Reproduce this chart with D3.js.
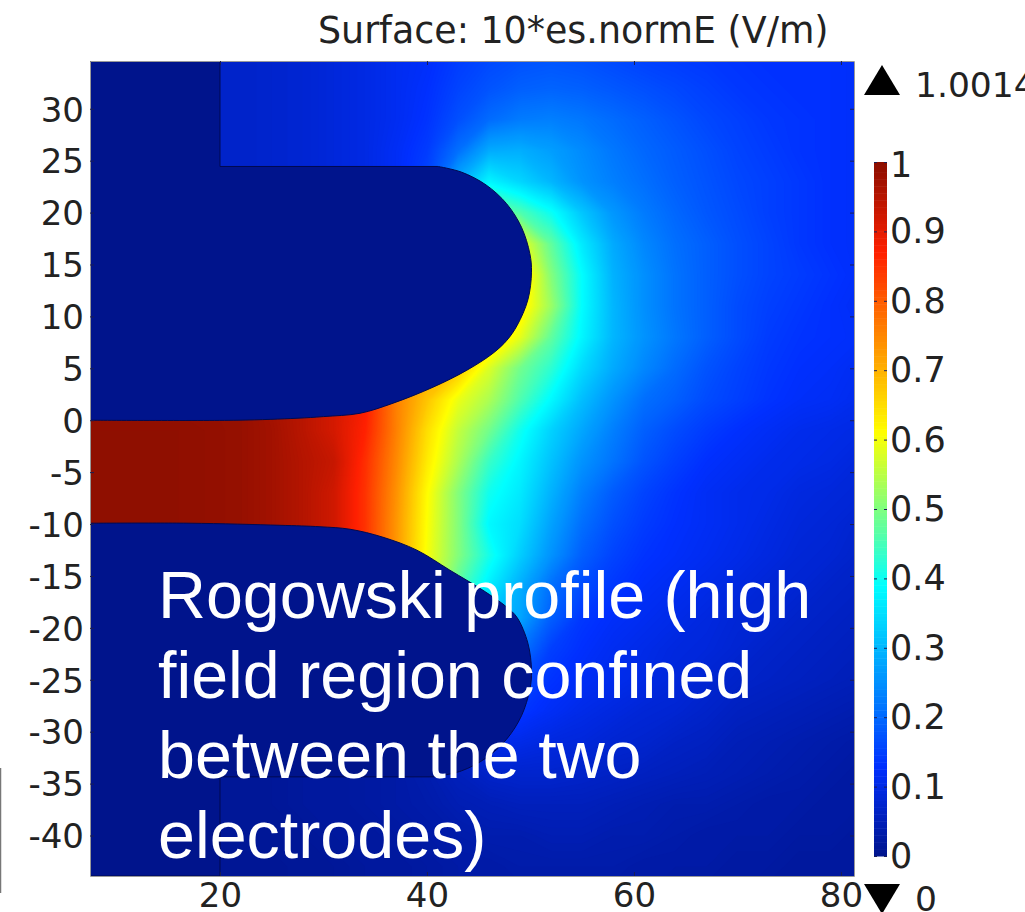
<!DOCTYPE html>
<html>
<head>
<meta charset="utf-8">
<script src="https://cdn.jsdelivr.net/npm/d3@7"></script>
<style>
  html, body { margin: 0; padding: 0; background: #fff; overflow: hidden; }
  text { font-family: "DejaVu Sans", sans-serif; fill: #222; }
  .axis path { stroke: #999; }
  .axis line { stroke: #1a1f55; }
  .note { font-family: "Liberation Sans", Arial, sans-serif; fill: #fff; }
</style>
</head>
<body>
<div id="chart"></div>
<script>
// field values, one row per y, columns follow gridX
var gridX = [7,10,13,16,19,22,25,28,31,34,37,40,43,46,49,52,55,58,61,64,67,70,73,76,79,82];
var gridY = [35,32,29,26,23,20,17,14,11,8,5,2,-1,-4,-7,-10,-13,-16,-19,-22,-25,-28,-31,-34,-37,-40,-43,-46];
var gridRows = [
  [.07,.07,.07,.07,.07,.07,.075,.08,.09,.10,.115,.125,.145,.16,.17,.175,.17,.16,.15,.145,.14,.135,.13,.13,.13,.125],
  [.07,.07,.07,.07,.07,.07,.075,.08,.09,.10,.115,.13,.155,.175,.19,.195,.19,.18,.17,.16,.15,.14,.135,.13,.13,.125],
  [.07,.07,.07,.07,.07,.07,.075,.08,.09,.10,.115,.135,.17,.205,.225,.23,.22,.205,.19,.175,.16,.15,.14,.135,.13,.125],
  [.07,.07,.07,.07,.07,.07,.075,.08,.09,.10,.12,.145,.21,.285,.29,.27,.245,.22,.20,.185,.17,.155,.145,.135,.13,.125],
  [.07,.07,.07,.07,.07,.07,.075,.08,.09,.10,.12,.16,.29,.38,.34,.30,.255,.23,.21,.19,.175,.16,.15,.14,.13,.125],
  [.30,.30,.30,.30,.30,.30,.30,.30,.30,.30,.30,.30,.40,.50,.46,.40,.32,.26,.225,.20,.18,.165,.15,.14,.13,.125],
  [.50,.50,.50,.50,.50,.50,.50,.50,.50,.50,.50,.50,.50,.60,.60,.475,.365,.285,.24,.21,.19,.17,.155,.14,.13,.125],
  [.75,.75,.75,.75,.75,.75,.75,.75,.75,.75,.75,.75,.75,.75,.66,.505,.39,.295,.25,.215,.19,.17,.155,.145,.135,.125],
  [.80,.80,.80,.80,.80,.80,.80,.80,.80,.80,.80,.80,.80,.75,.64,.525,.39,.30,.25,.215,.19,.165,.15,.14,.13,.12],
  [.80,.80,.80,.80,.80,.80,.80,.80,.80,.80,.80,.80,.72,.67,.59,.475,.38,.30,.255,.22,.19,.165,.145,.135,.13,.125],
  [.90,.90,.90,.90,.90,.90,.90,.90,.90,.90,.80,.72,.68,.58,.49,.43,.345,.285,.24,.205,.175,.155,.14,.13,.125,.115],
  [.99,.99,.99,.99,.99,.988,.97,.95,.92,.88,.76,.68,.595,.54,.46,.385,.31,.255,.21,.19,.165,.15,.135,.125,.12,.11],
  [.995,.995,.995,.995,.992,.988,.975,.95,.92,.87,.76,.65,.56,.49,.405,.335,.28,.23,.19,.165,.145,.13,.12,.11,.105,.10],
  [.995,.995,.995,.995,.992,.988,.975,.955,.935,.855,.75,.635,.54,.44,.38,.315,.255,.215,.175,.15,.13,.12,.11,.105,.10,.09],
  [.995,.995,.995,.995,.992,.988,.975,.955,.925,.85,.74,.615,.505,.405,.365,.295,.23,.185,.155,.135,.12,.11,.105,.095,.09,.085],
  [.995,.995,.995,.995,.992,.988,.975,.955,.925,.85,.735,.61,.505,.385,.35,.275,.21,.17,.145,.13,.12,.11,.10,.09,.085,.075],
  [.99,.99,.99,.99,.99,.988,.975,.955,.92,.85,.735,.605,.505,.41,.33,.255,.19,.155,.135,.125,.115,.105,.095,.085,.08,.07],
  [.60,.60,.60,.60,.60,.60,.60,.60,.60,.60,.60,.60,.47,.37,.29,.21,.165,.14,.125,.115,.105,.095,.085,.08,.07,.065],
  [.30,.30,.30,.30,.30,.30,.30,.30,.30,.30,.30,.30,.32,.32,.28,.19,.14,.125,.115,.105,.095,.085,.08,.07,.065,.06],
  [.20,.20,.20,.20,.20,.20,.20,.20,.20,.20,.20,.20,.25,.30,.22,.15,.13,.115,.105,.095,.09,.08,.07,.065,.06,.055],
  [.12,.12,.12,.12,.12,.12,.12,.12,.12,.12,.12,.12,.15,.20,.17,.135,.12,.11,.10,.09,.08,.07,.065,.06,.055,.05],
  [.08,.08,.08,.08,.08,.08,.08,.08,.08,.08,.08,.08,.10,.14,.14,.12,.105,.095,.085,.08,.07,.06,.055,.05,.045,.04],
  [.015,.015,.015,.015,.015,.015,.015,.02,.02,.025,.03,.05,.08,.11,.105,.095,.09,.08,.075,.065,.06,.05,.045,.04,.035,.03],
  [.015,.015,.015,.015,.015,.015,.015,.02,.02,.025,.03,.04,.055,.07,.075,.075,.07,.065,.06,.055,.05,.045,.04,.035,.03,.025],
  [.015,.015,.015,.015,.015,.015,.015,.02,.02,.025,.03,.035,.045,.05,.055,.055,.055,.05,.045,.04,.04,.035,.03,.03,.025,.025],
  [.015,.015,.015,.015,.015,.015,.015,.015,.02,.02,.025,.03,.035,.04,.04,.045,.045,.04,.04,.035,.03,.03,.03,.025,.025,.02],
  [.01,.01,.01,.01,.01,.01,.01,.015,.015,.02,.02,.025,.03,.03,.035,.035,.035,.035,.03,.03,.03,.025,.025,.02,.02,.02],
  [.01,.01,.01,.01,.01,.01,.01,.015,.015,.02,.02,.025,.03,.03,.03,.03,.03,.03,.03,.025,.025,.025,.02,.02,.02,.02]
];

// electrode outlines, in plot units
var upperProfile = [[41.06,24.44],[43.32,23.9],[45.71,22.66],[47.69,20.86],[49.13,18.59],[49.94,16.04],[50.1,14.26],[49.75,11.6],[48.71,9.13],[47.73,7.71],[46.38,6.45],[43.86,4.82],[40.58,3.18],[36.72,1.64],[33.53,.67],[30,.35],[27.44,.19],[21.64,0],[7.44,0]];
var lowerProfile = [[7.44,-9.92],[17.1,-9.92],[25.8,-10.12],[29.66,-10.26],[32.56,-10.5],[35.75,-11.27],[39.03,-12.52],[42.22,-14.45],[45.41,-16.38],[47.73,-18.02],[48.71,-19.01],[49.75,-21.47],[50.1,-24.13],[49.94,-25.92],[49.13,-28.47],[47.69,-30.73],[45.71,-32.53],[43.32,-33.78],[40.68,-34.35]];

var xTicks = [20,40,60,80];
var yTicks = [30,25,20,15,10,5,0,-5,-10,-15,-20,-25,-30,-35,-40];
var barTicks = [0,.1,.2,.3,.4,.5,.6,.7,.8,.9,1];
var colorStops = [0,.13,.39,.61,.87,1];
var colorValues = ["#00148c","#0030ff","#00ffff","#ffff00","#ff2000","#8a0e00"];
var titleText = "Surface: 10*es.normE (V/m)";
var maxText = "1.0014";
var minText = "0";
var noteLines = ["Rogowski profile (high","field region confined","between the two","electrodes)"];

var width = 1025, height = 912;
var plot = { left: 90, right: 854, top: 61, bottom: 876 };

var x = d3.scaleLinear().domain([7.44,81.26]).range([plot.left, plot.right]);
var y = d3.scaleLinear().domain([-43.9,34.6]).range([plot.bottom, plot.top]);
var color = d3.scaleLinear().domain(colorStops).range(colorValues);
var barY = d3.scaleLinear().domain([0,1]).range([856,162]);

var svg = d3.select("#chart").append("svg")
  .attr("width", width)
  .attr("height", height)
  .style("display", "block");

// stray line on the left edge of the picture
svg.append("line")
  .attr("x1", 0.5).attr("x2", 0.5)
  .attr("y1", 768).attr("y2", 893)
  .attr("stroke", "#777").attr("stroke-width", 1.5);

svg.append("clipPath").attr("id", "plotClip")
  .append("rect")
  .attr("x", plot.left).attr("y", plot.top)
  .attr("width", plot.right - plot.left)
  .attr("height", plot.bottom - plot.top);

var plotG = svg.append("g").attr("clip-path", "url(#plotClip)");

plotG.append("rect")
  .attr("x", plot.left).attr("y", plot.top)
  .attr("width", plot.right - plot.left)
  .attr("height", plot.bottom - plot.top)
  .attr("fill", color(0));

// ======== Surface ========
var n = gridX.length, m = gridY.length;
var thresholds = d3.range(.0025, 1, .0025);
var contours = d3.contours().size([n, m]).smooth(true).thresholds(thresholds)(gridRows.flat());

// contour coords sit half a cell off the grid index
var gridX2 = d3.scaleLinear().domain([0.5, n - 0.5]).range([gridX[0], gridX[n - 1]]);
var gridY2 = d3.scaleLinear().domain([0.5, m - 0.5]).range([gridY[0], gridY[m - 1]]);
var path = d3.geoPath(d3.geoTransform({
  point: function (px, py) { this.stream.point(x(gridX2(px)), y(gridY2(py))); }
}));

plotG.selectAll(".band")
  .data(contours)
  .enter().append("path")
  .attr("class", "band")
  .attr("d", path)
  .attr("fill", function (d) { return color(d.value); });

// ======== Electrodes ========
var outline = d3.line()
  .x(function (d) { return x(d[0]); })
  .y(function (d) { return y(d[1]); })
  .curve(d3.curveCatmullRom.alpha(0.5));

function pt(a, b) { return "L" + x(a) + "," + y(b); }

var upperD = outline(upperProfile) + pt(7.44,34.6) + pt(20,34.6) + pt(20,24.44) + "Z";
var lowerD = outline(lowerProfile) + pt(20,-34.35) + pt(20,-43.9) + pt(7.44,-43.9) + "Z";

plotG.selectAll(".electrode")
  .data([upperD, lowerD])
  .enter().append("path")
  .attr("class", "electrode")
  .attr("d", function (d) { return d; })
  .attr("fill", color(0))
  .attr("stroke", "#000a50")
  .attr("stroke-width", 1);

// ======== Axes ========
function noText(s) { s.selectAll("text").remove(); }
function fmt(d) { return String(d); }

svg.append("g").attr("class", "axis")
  .attr("transform", "translate(0," + plot.bottom + ")")
  .call(d3.axisBottom(x).tickValues(xTicks).tickSizeInner(-4).tickSizeOuter(0).tickPadding(7).tickFormat(fmt))
  .attr("font-size", 34).attr("font-family", null);
svg.append("g").attr("class", "axis")
  .attr("transform", "translate(" + plot.left + ",0)")
  .call(d3.axisLeft(y).tickValues(yTicks).tickSizeInner(-4).tickSizeOuter(0).tickPadding(6).tickFormat(fmt))
  .attr("font-size", 34).attr("font-family", null)
  .selectAll("text").attr("dy", "0.36em");
svg.append("g").attr("class", "axis")
  .attr("transform", "translate(0," + plot.top + ")")
  .call(d3.axisTop(x).tickValues(xTicks).tickSizeInner(-4).tickSizeOuter(0))
  .call(noText);
svg.append("g").attr("class", "axis")
  .attr("transform", "translate(" + plot.right + ",0)")
  .call(d3.axisRight(y).tickValues(yTicks).tickSizeInner(-4).tickSizeOuter(0))
  .call(noText);

svg.append("text")
  .attr("x", 318).attr("y", 43)
  .attr("font-size", 36.4)
  .text(titleText);

// ======== Colour bar ========
var barSteps = d3.range(0, 1, .005);
svg.append("g").selectAll("rect")
  .data(barSteps)
  .enter().append("rect")
  .attr("x", 874).attr("width", 13)
  .attr("y", function (d) { return barY(d + .005); })
  .attr("height", function (d) { return barY(d) - barY(d + .005) + .5; })
  .attr("fill", function (d) { return color(d + .0025); });

var barAxis = svg.append("g").attr("class", "axis")
  .attr("transform", "translate(887,0)")
  .call(d3.axisRight(barY).tickValues(barTicks).tickSizeInner(-3).tickSizeOuter(0).tickPadding(3).tickFormat(fmt))
  .attr("font-size", 35).attr("font-family", null);
barAxis.select(".domain").remove();
barAxis.selectAll("text").attr("dy", function (d) { return d == 1 ? "0.42em" : "0.33em"; });

var barLeft = svg.append("g").attr("class", "axis")
  .attr("transform", "translate(874,0)")
  .call(d3.axisLeft(barY).tickValues(barTicks).tickSizeInner(-3).tickSizeOuter(0))
  .call(noText);
barLeft.select(".domain").remove();

// max and min markers
var triangle = d3.line();
svg.append("path").attr("d", triangle([[882,65],[900,95],[864,95]]) + "Z").attr("fill", "#000");
svg.append("path").attr("d", triangle([[864,884],[900,884],[882,914]]) + "Z").attr("fill", "#000");
svg.append("text").attr("x", 915).attr("y", 97).attr("font-size", 34.5).text(maxText);
svg.append("text").attr("x", 915).attr("y", 911).attr("font-size", 34.5).text(minText);

// ======== Note ========
svg.append("g").selectAll("text")
  .data(noteLines)
  .enter().append("text")
  .attr("class", "note")
  .attr("x", 158)
  .attr("y", function (d, i) { return 618 + i * 80; })
  .attr("font-size", 66.4)
  .text(function (d) { return d; });
</script>
</body>
</html>
